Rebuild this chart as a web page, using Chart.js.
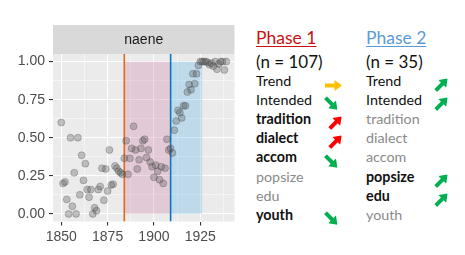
<!DOCTYPE html>
<html>
<head>
<meta charset="utf-8">
<script src="https://cdn.jsdelivr.net/npm/chart.js@4.4.1/dist/chart.umd.min.js"></script>
<style>
  body { margin: 0; background: #fff; }
  #wrap { position: relative; width: 465px; height: 255px; overflow: hidden; }
  #chart { position: absolute; left: 0; top: 0; }
  .t { position: absolute; font-family: Lato, "Open Sans", sans-serif; white-space: nowrap; line-height: 1; }
  .head { font-size: 17.5px; text-decoration: underline; text-decoration-thickness: 1px; text-underline-offset: 2px; }
  .n { font-size: 17px; color: #111; }
  .row { font-size: 14.3px; color: #111; }
  .bold { font-weight: bold; }
  .grey { color: #8a8a8a; }
  .arrow { position: absolute; width: 17px; height: 11px; }
</style>
</head>
<body>
<div id="wrap">
  <canvas id="chart" width="240" height="255"></canvas>
  <div id="legend"></div>
</div>
<script>
// naene: share per year
const years = [1850, 1851, 1852, 1853, 1854, 1855, 1856, 1857, 1858, 1859,
    1860, 1861, 1862, 1863, 1864, 1865, 1866, 1867, 1868, 1869,
    1870, 1871, 1872, 1873, 1874, 1875, 1876, 1877, 1878, 1879,
    1880, 1881, 1882, 1883, 1884, 1885, 1886, 1887, 1888, 1889,
    1890, 1891, 1892, 1893, 1894, 1895, 1896, 1897, 1898, 1899,
    1900, 1901, 1902, 1903, 1904, 1905, 1906, 1907, 1908, 1909,
    1910, 1911, 1912, 1913, 1914, 1915, 1916, 1917, 1918, 1919,
    1920, 1921, 1922, 1923, 1924, 1925, 1926, 1927, 1928, 1929,
    1930, 1931, 1932, 1933, 1934, 1935, 1936, 1937, 1938, 1939];
const naene = [0.60, 0.20, 0.21, 0.095, 0.00, 0.50, 0.05, 0.27, 0.00, 0.50,
    0.125, 0.385, 0.22, 0.33, 0.16, 0.11, 0.16, 0.00, 0.04, 0.02,
    0.16, 0.18, 0.30, 0.09, 0.295, 0.15, 0.42, 0.19, 0.195, 0.315,
    0.30, 0.28, 0.27, 0.26, 0.365, 0.48, 0.26, 0.365, 0.43, 0.575,
    0.42, 0.295, 0.355, 0.43, 0.48, 0.49, 0.37, 0.42, 0.34, 0.31,
    0.24, 0.32, 0.28, 0.225, 0.31, 0.20, 0.30, 0.49, 0.42, 0.43,
    0.40, 0.55, 0.61, 0.68, 0.665, 0.63, 0.71, 0.71, 0.80, 0.85,
    0.815, 0.92, 0.855, 0.92, 0.975, 1.00, 1.00, 1.00, 1.00, 0.995,
    0.98, 0.99, 0.97, 1.00, 0.95, 0.985, 1.00, 1.00, 0.945, 1.00];

// Phasen
const phaseStart = [1884, 1909];
const phaseEnd = [1909, 1926];
const phaseLine = ['#E06A1B', '#0B77BD'];
const phaseFill = ['rgba(204,121,167,0.3)', 'rgba(86,180,233,0.3)'];

const xTicks = [1850, 1875, 1900, 1925];
const yTicks = [0, 0.25, 0.5, 0.75, 1];

// rechte Tabelle
const rows = ['Trend', 'Intended', 'tradition', 'dialect', 'accom', 'popsize', 'edu', 'youth'];
const phaseTitle = ['Phase 1', 'Phase 2'];
const phaseN = ['(n = 107)', '(n = 35)'];
const phaseTitleColor = ['#CC1111', '#5B9BD5'];
const style1 = ['', '', 'bold', 'bold', 'bold', 'grey', 'grey', 'bold'];
const style2 = ['', '', 'grey', 'grey', 'grey', 'bold', 'bold', 'grey'];
const arrows1 = ['right', 'down', 'up', 'up', 'down', '', '', 'down'];
const arrows2 = ['up', 'up', '', '', '', 'up', 'up', ''];
const arrowColor1 = ['#FFC000', '#00B050', '#FF0000', '#FF0000', '#00B050', '', '', '#00B050'];
const arrowColor2 = ['#00B050', '#00B050', '', '', '', '#00B050', '#00B050', ''];

const panelPlugin = {
    id: 'panel',
    beforeDraw(c) {
        const a = c.chartArea, g = c.ctx;
        g.save();
        g.fillStyle = '#EBEBEB';
        g.fillRect(a.left, a.top, a.right - a.left, a.bottom - a.top);
        // strip
        g.fillStyle = '#D9D9D9';
        g.fillRect(a.left, 25, a.right - a.left, a.top - 25);
        g.fillStyle = '#1A1A1A';
        g.font = '14px "Liberation Sans", Arial, sans-serif';
        g.textAlign = 'center';
        g.textBaseline = 'middle';
        g.fillText('naene', (a.left + a.right) / 2, (25 + a.top) / 2 + 1);
        g.restore();
    },
    beforeDatasetsDraw(c) {
        const a = c.chartArea, g = c.ctx, x = c.scales.x, y = c.scales.y;
        g.save();
        g.beginPath();
        g.rect(a.left, a.top, a.right - a.left, a.bottom - a.top);
        g.clip();
        for (let i = 0; i < phaseStart.length; i++) {
            const x0 = x.getPixelForValue(phaseStart[i]);
            const x1 = x.getPixelForValue(phaseEnd[i]);
            const y0 = y.getPixelForValue(1), y1 = y.getPixelForValue(0);
            g.fillStyle = phaseFill[i];
            g.fillRect(x0, y0, x1 - x0, y1 - y0);
        }
        for (let i = 0; i < phaseStart.length; i++) {
            const px = x.getPixelForValue(phaseStart[i]);
            g.strokeStyle = phaseLine[i];
            g.lineWidth = 1.6;
            g.beginPath();
            g.moveTo(px, a.top);
            g.lineTo(px, a.bottom);
            g.stroke();
        }
        g.restore();
    }
};

const isMajor = (v, list) => list.some(t => Math.abs(t - v) < 1e-6);
const tickFont = { family: '"Liberation Sans", Arial, sans-serif', size: 14 };

new Chart(document.getElementById('chart').getContext('2d'), {
    type: 'scatter',
    data: {
        datasets: [{
            data: years.map((yr, i) => ({ x: yr, y: naene[i] })),
            pointRadius: 3.5,
            backgroundColor: 'rgba(85,85,85,0.32)',
            borderColor: 'rgba(50,50,50,0.32)',
            borderWidth: 0.8
        }]
    },
    options: {
        responsive: false,
        animation: false,
        devicePixelRatio: 1,
        layout: { padding: { top: 54, right: 5.5, left: 0, bottom: 0 } },
        plugins: { legend: { display: false }, tooltip: { enabled: false } },
        scales: {
            x: {
                type: 'linear',
                min: 1845.55,
                max: 1943.45,
                afterFit: s => { s.height = 33.5; },
                border: { display: false },
                grid: {
                    color: '#FFFFFF',
                    lineWidth: ctx => ctx.tick && isMajor(ctx.tick.value, xTicks) ? 1.1 : 0.5,
                    tickColor: ctx => ctx.tick && isMajor(ctx.tick.value, xTicks) ? '#333333' : 'rgba(0,0,0,0)',
                    tickWidth: 1.1,
                    tickLength: 4
                },
                ticks: {
                    stepSize: 12.5,
                    includeBounds: false,
                    autoSkip: false,
                    maxRotation: 0,
                    padding: 3,
                    color: '#4D4D4D',
                    font: tickFont,
                    callback: v => isMajor(v, xTicks) ? String(v) : ''
                }
            },
            y: {
                min: -0.05,
                max: 1.05,
                afterFit: s => { s.width = 53; },
                border: { display: false },
                grid: {
                    color: '#FFFFFF',
                    lineWidth: ctx => ctx.tick && isMajor(ctx.tick.value, yTicks) ? 1.1 : 0.5,
                    tickColor: ctx => ctx.tick && isMajor(ctx.tick.value, yTicks) ? '#333333' : 'rgba(0,0,0,0)',
                    tickWidth: 1.1,
                    tickLength: 4
                },
                ticks: {
                    stepSize: 0.125,
                    includeBounds: false,
                    autoSkip: false,
                    padding: 4,
                    color: '#4D4D4D',
                    font: tickFont,
                    callback: v => isMajor(v, yTicks) ? v.toFixed(2) : ''
                }
            }
        }
    },
    plugins: [panelPlugin]
});

// Tabelle rechts
const legend = document.getElementById('legend');
const colX = [256, 366];
const arrowX = [333, 439];
const rowY = rows.map((_, i) => 81 + i * 19.15);
const rot = { right: 0, down: 45, up: -45 };

function arrowSvg(color) {
    return `<svg width="17" height="11" viewBox="0 0 17 11"><path d="M0 3.5 H9.5 V0 L17 5.5 L9.5 11 V7.5 H0 Z" fill="${color}"/></svg>`;
}

function addText(cls, text, x, cy, h, color) {
    const d = document.createElement('div');
    d.className = 't ' + cls;
    d.textContent = text;
    d.style.left = x + 'px';
    d.style.top = (cy - h / 2) + 'px';
    if (color) d.style.color = color;
    legend.appendChild(d);
}

[0, 1].forEach(p => {
    addText('head', phaseTitle[p], colX[p], 37.5, 17.5, phaseTitleColor[p]);
    addText('n', phaseN[p], colX[p], 61, 17);
    const st = p === 0 ? style1 : style2;
    const ar = p === 0 ? arrows1 : arrows2;
    const ac = p === 0 ? arrowColor1 : arrowColor2;
    rows.forEach((r, i) => {
        addText('row ' + st[i], r, colX[p], rowY[i], 14.3);
        if (ar[i]) {
            const a = document.createElement('div');
            a.className = 'arrow';
            a.innerHTML = arrowSvg(ac[i]);
            a.style.left = (arrowX[p] - 8.5) + 'px';
            a.style.top = (rowY[i] + 1.5 - 5.5) + 'px';
            a.style.transform = `rotate(${rot[ar[i]]}deg)`;
            legend.appendChild(a);
        }
    });
});
</script>
</body>
</html>
